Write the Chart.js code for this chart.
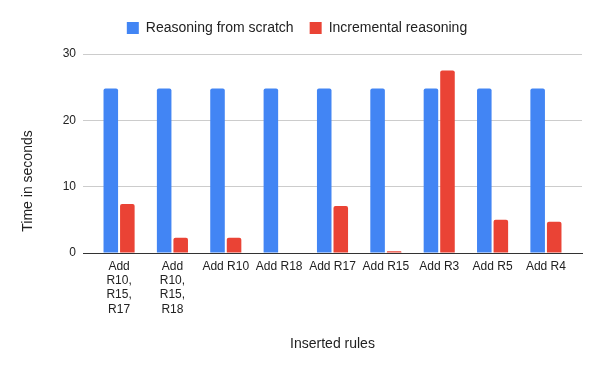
<!DOCTYPE html>
<html>
<head>
<meta charset="utf-8">
<script src="https://cdn.jsdelivr.net/npm/chart.js@4.4.1/dist/chart.umd.min.js"></script>
<style>
  html, body { margin: 0; padding: 0; background: #fff; }
  #wrap { width: 600px; height: 371px; }
</style>
</head>
<body>
<div id="wrap"><canvas id="chart" width="600" height="371"></canvas></div>
<script>
// Data
const categories = [
    ["Add", "R10,", "R15,", "R17"],
    ["Add", "R10,", "R15,", "R18"],
    "Add R10", "Add R18", "Add R17", "Add R15", "Add R3", "Add R5", "Add R4",
];
const fromScratch = [24.8, 24.8, 24.8, 24.8, 24.8, 24.8, 24.8, 24.8, 24.8];
const incremental = [7.4, 2.3, 2.3, 0, 7.1, 0.25, 27.5, 5.0, 4.7];
const yTicks = [0, 10, 20, 30];

const FONT = "'Liberation Sans', Arial, sans-serif";
const TEXT = "#222222";

// categories sit inside the gridlines, with a little room at both ends
const X_EDGE = 0.676;

const barStyle = {
    borderRadius: { topLeft: 2, topRight: 2 },
    borderSkipped: "start",
    barPercentage: 0.88,
    categoryPercentage: 0.62,
};

const toPoints = (values) => values.map((v, i) => ({ x: i, y: v }));

// legend sits a bit higher than Chart.js puts it
const legendGap = {
    id: "legendGap",
    beforeInit(chart) {
        const fit = chart.legend.fit;
        chart.legend.fit = function () {
            fit.call(this);
            this.height += 9;
        };
    },
};

// y title is centred lower than the plot, like in the reference
const yTitle = {
    id: "yTitle",
    afterDraw(chart) {
        const ctx = chart.ctx;
        ctx.save();
        ctx.translate(28, 181);
        ctx.rotate(-Math.PI / 2);
        ctx.font = "14px " + FONT;
        ctx.fillStyle = TEXT;
        ctx.textAlign = "center";
        ctx.textBaseline = "middle";
        ctx.fillText("Time in seconds", 0, 0);
        ctx.restore();
    },
};

new Chart(document.getElementById("chart"), {
    type: "bar",
    data: {
        datasets: [
            { label: "Reasoning from scratch", data: toPoints(fromScratch), backgroundColor: "#4285F4", ...barStyle },
            { label: "Incremental reasoning", data: toPoints(incremental), backgroundColor: "#EA4335", ...barStyle },
        ],
    },
    plugins: [legendGap, yTitle],
    options: {
        responsive: false,
        animation: false,
        layout: { padding: { left: 12, right: 18, top: 5, bottom: 18 } },
        plugins: {
            legend: {
                position: "top",
                labels: {
                    boxWidth: 12,
                    boxHeight: 12,
                    padding: 16,
                    color: TEXT,
                    font: { family: FONT, size: 14 },
                },
            },
            tooltip: { enabled: false },
        },
        scales: {
            x: {
                type: "linear",
                offset: false,
                min: -0.5 - X_EDGE + 0.5,
                max: categories.length - 1 + X_EDGE,
                afterBuildTicks: (scale) => { scale.ticks = categories.map((_, i) => ({ value: i })); },
                grid: { display: false, drawTicks: false },
                border: { color: "#333333", width: 1 },
                ticks: {
                    color: TEXT,
                    font: { family: FONT, size: 12 },
                    padding: 6,
                    maxRotation: 0,
                    autoSkip: false,
                    callback: (value) => categories[value],
                },
                title: {
                    display: true,
                    text: "Inserted rules",
                    color: TEXT,
                    font: { family: FONT, size: 14 },
                    padding: { top: 0, bottom: 0 },
                },
                afterFit: (scale) => { scale.height = 100; },
            },
            y: {
                min: 0,
                max: 30,
                afterBuildTicks: (scale) => { scale.ticks = yTicks.map((v) => ({ value: v })); },
                grid: { color: "#cccccc", drawTicks: false },
                border: { display: false },
                ticks: {
                    color: TEXT,
                    font: { family: FONT, size: 12 },
                    padding: 7,
                },
                title: { display: false },
                afterFit: (scale) => { scale.width = 71; },
            },
        },
    },
});
</script>
</body>
</html>
